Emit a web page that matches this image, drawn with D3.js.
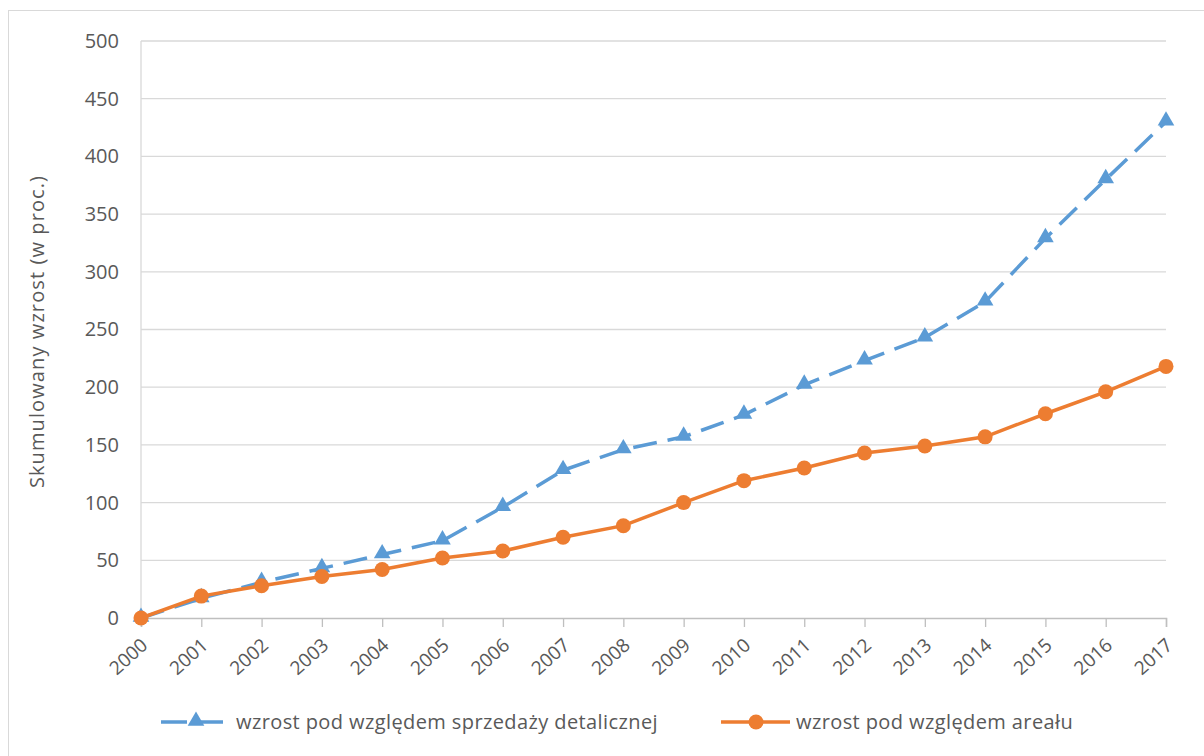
<!DOCTYPE html>
<html>
<head>
<meta charset="utf-8">
<script src="https://cdn.jsdelivr.net/npm/d3@7"></script>
<style>
  body { margin: 0; background: #fff; }
  text { font-family: "Open Sans", "Liberation Sans", sans-serif; fill: #595959; }
</style>
</head>
<body>
<div id="chart"></div>
<script>
var years = ["2000","2001","2002","2003","2004","2005","2006","2007","2008","2009",
  "2010","2011","2012","2013","2014","2015","2016","2017"];
var retailGrowth = [0, 17, 31, 43, 55, 67, 96, 128, 146, 157, 176, 202, 223, 243, 274, 329, 380, 430];
var areaGrowth = [0, 19, 28, 36, 42, 52, 58, 70, 80, 100, 119, 130, 143, 149, 157, 177, 196, 218];
var yTicks = [0, 50, 100, 150, 200, 250, 300, 350, 400, 450, 500];
var seriesNames = ["wzrost pod względem sprzedaży detalicznej", "wzrost pod względem areału"];

var width = 1204, height = 756;
var pad = {left: 141, right: 38, top: 41, bottom: 138};

var svg = d3.select("#chart").append("svg")
  .attr("width", width)
  .attr("height", height);

// outer chart border
svg.append("rect")
  .attr("x", 8.5).attr("y", 10.5)
  .attr("width", 1200).attr("height", 760)
  .attr("fill", "none")
  .attr("stroke", "#d9d9d9");

var x = d3.scalePoint().domain(years).range([pad.left, width - pad.right]);
var y = d3.scaleLinear().domain([0, 500]).range([height - pad.bottom, pad.top]);

// gridlines
svg.append("g")
  .selectAll("line")
  .data(yTicks.filter(function(d) { return d > 0; }))
  .enter().append("line")
  .attr("x1", pad.left).attr("x2", width - pad.right)
  .attr("y1", function(d) { return y(d); })
  .attr("y2", function(d) { return y(d); })
  .attr("stroke", "#d9d9d9")
  .attr("stroke-width", 1.3);

// left axis line
svg.append("line")
  .attr("x1", pad.left).attr("x2", pad.left)
  .attr("y1", y(500)).attr("y2", y(0))
  .attr("stroke", "#d9d9d9").attr("stroke-width", 1.3);

// y axis
var yAxis = svg.append("g")
  .attr("transform", "translate(" + (pad.left - 22) + ",0)")
  .call(d3.axisLeft(y).tickValues(yTicks).tickSize(0).tickPadding(0));
yAxis.select(".domain").remove();
yAxis.selectAll("text")
  .style("font-size", "20px")
  .style("fill", "#595959");

// x axis
var xAxis = svg.append("g")
  .attr("transform", "translate(0," + y(0) + ")")
  .call(d3.axisBottom(x).tickSize(9).tickPadding(6));
xAxis.select(".domain")
  .attr("stroke", "#bfbfbf").attr("stroke-width", 1.5);
xAxis.selectAll(".tick line")
  .attr("stroke", "#bfbfbf").attr("stroke-width", 1.3);
xAxis.selectAll("text")
  .style("font-size", "19px")
  .style("fill", "#595959")
  .style("text-anchor", "end")
  .attr("x", 0).attr("y", 0)
  .attr("dy", "0.35em")
  .attr("transform", "translate(3,24) rotate(-42)");

// y axis title
svg.append("text")
  .attr("transform", "translate(44," + ((y(0) + y(500)) / 2 + 2) + ") rotate(-90)")
  .attr("text-anchor", "middle")
  .style("font-size", "20px")
  .style("letter-spacing", "1.1px")
  .text("Skumulowany wzrost (w proc.)");

var line = d3.line()
  .x(function(d, i) { return x(years[i]); })
  .y(function(d) { return y(d); });

var blue = "#5b9bd5", orange = "#ed7d31";
var tri = d3.symbol().type(d3.symbolTriangle).size(120);

svg.append("path")
  .datum(retailGrowth)
  .attr("d", line)
  .attr("fill", "none")
  .attr("stroke", blue)
  .attr("stroke-width", 3.5)
  .attr("stroke-dasharray", "24,11");

svg.append("g").selectAll("path")
  .data(retailGrowth)
  .enter().append("path")
  .attr("d", tri)
  .attr("transform", function(d, i) { return "translate(" + x(years[i]) + "," + (y(d) - 1) + ")"; })
  .attr("fill", blue);

svg.append("path")
  .datum(areaGrowth)
  .attr("d", line)
  .attr("fill", "none")
  .attr("stroke", orange)
  .attr("stroke-width", 3.5);

svg.append("g").selectAll("circle")
  .data(areaGrowth)
  .enter().append("circle")
  .attr("cx", function(d, i) { return x(years[i]); })
  .attr("cy", function(d) { return y(d); })
  .attr("r", 7.5)
  .attr("fill", orange);

// legend
var legendY = 722;
var legend = [
  {name: seriesNames[0], color: blue, x: 161, textX: 236, marker: "tri"},
  {name: seriesNames[1], color: orange, x: 721, textX: 796, marker: "circle"}
];
legend.forEach(function(l) {
  svg.append("line")
    .attr("x1", l.x).attr("x2", l.x + 69)
    .attr("y1", legendY).attr("y2", legendY)
    .attr("stroke", l.color).attr("stroke-width", 3.5)
    .attr("stroke-dasharray", l.marker == "tri" ? "26,10" : null);
  if (l.marker == "tri") {
    svg.append("path")
      .attr("d", tri)
      .attr("transform", "translate(" + (l.x + 35) + "," + (legendY - 1) + ")")
      .attr("fill", l.color);
  } else {
    svg.append("circle")
      .attr("cx", l.x + 35).attr("cy", legendY).attr("r", 7.5)
      .attr("fill", l.color);
  }
  svg.append("text")
    .attr("x", l.textX).attr("y", legendY + 7)
    .style("font-size", "20px")
    .style("letter-spacing", "0.4px")
    .text(l.name);
});
</script>
</body>
</html>
